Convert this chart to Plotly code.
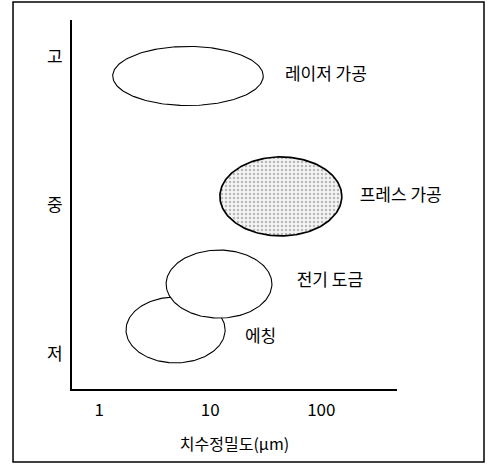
import numpy as np
import plotly.graph_objects as go

# ---- data ----
processes = ["에칭", "전기 도금", "프레스 가공", "레이저 가공"]
# dimensional precision range (um), min / max
prec_min = [1.74, 4.0, 12.2, 1.32]
prec_max = [13.6, 35.9, 153.0, 30.0]
# productivity level range (0=저, 1=중, 2=고)
level_min = [-0.06, 0.242, 0.795, 1.673]
level_max = [0.384, 0.700, 1.327, 2.071]
shaded = [False, False, True, False]

x_ticks = [1, 10, 100]
x_tick_labels = ["1", "10", "100"]
y_ticks = [0, 1, 2]
y_tick_labels = ["저", "중", "고"]

label_x = [20.5, 60, 222, 47]
label_y = [0.108, 0.485, 1.061, 1.872]

FONT = "Noto Sans CJK KR"

fig = go.Figure()
t = np.linspace(0, 2 * np.pi, 200)
for i, name in enumerate(processes):
    lx0, lx1 = np.log10(prec_min[i]), np.log10(prec_max[i])
    cx, rx = (lx0 + lx1) / 2, (lx1 - lx0) / 2
    cy, ry = (level_min[i] + level_max[i]) / 2, (level_max[i] - level_min[i]) / 2
    xs = 10 ** (cx + rx * np.cos(t))
    ys = cy + ry * np.sin(t)
    kw = dict(fillcolor="white")
    if shaded[i]:
        kw = dict(fillcolor="#e6e6e6",
                  fillpattern=dict(shape=".", fgcolor="#777777", bgcolor="#f4f4f4",
                                   size=4, solidity=0.3))
    fig.add_trace(go.Scatter(x=xs, y=ys, mode="lines", fill="toself",
                             line=dict(color="black", width=1.7 if shaded[i] else 1.1),
                             hoverinfo="skip", name=name, cliponaxis=False, **kw))

fig.add_trace(go.Scatter(x=label_x, y=label_y, mode="text", text=processes,
                         textposition="middle right", cliponaxis=False,
                         textfont=dict(family=FONT, size=17, color="black"),
                         hoverinfo="skip"))

fig.update_xaxes(type="log", range=[-0.246, 2.682], tickvals=x_ticks, ticktext=x_tick_labels,
                 showline=True, linecolor="black", linewidth=2, showgrid=False, zeroline=False,
                 ticks="", automargin=False, ticklabelstandoff=5,
                 tickfont=dict(family=FONT, size=17, color="black"),
                 title=dict(text="치수정밀도(μm)", font=dict(family=FONT, size=16, color="black"),
                            standoff=18))
fig.update_yaxes(range=[-0.2357, 2.249], tickvals=y_ticks, ticktext=y_tick_labels,
                 showline=True, linecolor="black", linewidth=2, showgrid=False, zeroline=False,
                 ticks="", ticklabelstandoff=4, automargin=False,
                 tickfont=dict(family=FONT, size=17, color="black"))

fig.add_shape(type="rect", xref="paper", yref="paper",
              x0=-0.1815, x1=1.2677, y0=-0.1978, y1=1.0488,
              line=dict(color="black", width=1.5))

fig.update_layout(width=494, height=473, margin=dict(l=72, r=97, t=20, b=84),
                  paper_bgcolor="white", plot_bgcolor="white", showlegend=False,
                  font=dict(family=FONT, color="black"))

fig.write_html("out.html", config={"displayModeBar": False},
               post_script="document.body.style.margin='0';")
